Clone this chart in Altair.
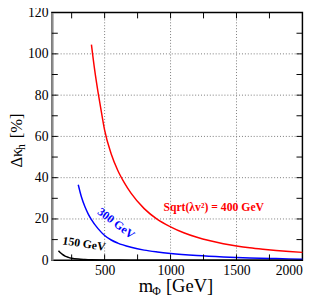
import altair as alt
import pandas as pd

# ---- data ----
red_m = [400, 425, 450, 475, 500, 550, 600, 650, 700, 800, 900, 1000, 1100, 1200,
         1300, 1400, 1500, 1600, 1700, 1800, 1900, 2000]
red_k = [104.5, 92.0, 81.5, 72.0, 63.0, 51.5, 43.5, 37.5, 32.5, 25.0, 19.8, 16.2,
         13.3, 11.1, 9.4, 8.0, 6.9, 6.0, 5.3, 4.7, 4.2, 3.8]

blue_m = [300, 325, 350, 375, 400, 450, 500, 550, 600, 700, 800, 900, 1000, 1200,
          1400, 1600, 1800, 2000]
blue_k = [36.6, 30.5, 26.0, 22.5, 19.7, 15.3, 12.0, 9.8, 8.3, 6.3, 4.9, 4.0, 3.3,
          2.3, 1.6, 1.1, 0.8, 0.5]

black_m = [150, 165, 180, 200, 225, 250, 300, 350, 400, 500, 700, 1000, 2000]
black_k = [4.6, 3.6, 2.8, 2.0, 1.4, 1.0, 0.55, 0.35, 0.22, 0.12, 0.05, 0.02, 0.0]

series_names = ["400", "300", "150"]
series_colors = ["#ff0000", "#0000ff", "#000000"]

x_labels = [500, 1000, 1500, 2000]
y_labels = [0, 20, 40, 60, 80, 100, 120]
x_grid = [500, 1000, 1500]
y_grid = [20, 40, 60, 80, 100]
x_minor = [250, 500, 750, 1000, 1250, 1500, 1750]
y_minor = [10, 20, 30, 40, 50, 60, 70, 80, 90, 100, 110]

label_red = ["Sqrt(λv²) = 400 GeV"]
label_blue = ["300 GeV"]
label_black = ["150 GeV"]

rows = []
for name, ms, ks in [("400", red_m, red_k), ("300", blue_m, blue_k), ("150", black_m, black_k)]:
    for m, k in zip(ms, ks):
        rows.append({"m": m, "k": k, "s": name})
df = pd.DataFrame(rows)

W, H = 257, 254
FONT = "Liberation Serif"
X0, X1, Y0, Y1 = 100, 2000, 0, 120
TX = 45    # inward tick length in x units (~6 px)
TY = 2.8   # inward tick length in y units (~6 px)


def segments(pairs):
    out = []
    for i, ((ma, ka), (mb, kb)) in enumerate(pairs):
        out.append({"gid": i, "o": 0, "m": ma, "k": ka})
        out.append({"gid": i, "o": 1, "m": mb, "k": kb})
    return pd.DataFrame(out)


grid_df = segments([((v, Y0), (v, Y1)) for v in x_grid] +
                   [((X0, v), (X1, v)) for v in y_grid])
tick_df = segments([((v, Y0), (v, Y0 + TY)) for v in x_minor] +
                   [((v, Y1 - TY), (v, Y1)) for v in x_minor] +
                   [((X0, v), (X0 + TX, v)) for v in y_minor] +
                   [((X1 - TX, v), (X1, v)) for v in y_minor])

xs = alt.Scale(domain=[X0, X1], nice=False, zero=False)
ys = alt.Scale(domain=[Y0, Y1], nice=False)

x_axis = alt.Axis(values=x_labels, format="d", title=None, grid=False,
                  ticks=False, domain=False,
                  labelFont=FONT, labelFontSize=14, labelColor="black",
                  labelPadding=4)
y_axis = alt.Axis(values=y_labels, format="d", title=None, grid=False,
                  ticks=False, domain=True,
                  domainColor="#8c8c8c", domainWidth=2.5,
                  labelFont=FONT, labelFontSize=14, labelColor="black",
                  labelPadding=4)

X = alt.X("m:Q", scale=xs, axis=x_axis)
Y = alt.Y("k:Q", scale=ys, axis=y_axis)

grid = alt.Chart(grid_df).mark_line(color="#777777", strokeWidth=1, strokeDash=[1, 2]).encode(
    x=X, y=Y, detail="gid:N", order="o:Q")

lines = alt.Chart(df).mark_line(strokeWidth=1.5, interpolate="monotone").encode(
    x=X, y=Y,
    color=alt.Color("s:N", scale=alt.Scale(domain=series_names, range=series_colors),
                    legend=None),
)

ticks = alt.Chart(tick_df).mark_line(color="black", strokeWidth=1).encode(
    x=X, y=Y, detail="gid:N", order="o:Q")


def txt(s, x, y, size, color="black", weight="normal", angle=0, align="center",
        baseline="middle"):
    return alt.Chart(pd.DataFrame({"t": s})).mark_text(
        font=FONT, fontSize=size, color=color, fontWeight=weight, angle=angle,
        align=align, baseline=baseline,
    ).encode(x=alt.value(x), y=alt.value(y), text="t:N")


t_red = txt(label_red, 166, 199, 12, "#ff0000", "bold")
t_blue = txt(label_blue, 66, 216, 12, "#0000ff", "bold", angle=37)
t_black = txt(label_black, 33, 237, 12, "black", "bold", angle=9)

# axis titles
xt1 = txt(["m"], 89, 287, 19, align="left", baseline="alphabetic")
xt2 = txt(["Φ"], 103, 290, 12, align="left", baseline="alphabetic")
xt3 = txt(["[GeV]"], 117, 287, 19, align="left", baseline="alphabetic")
yt1 = txt(["Δκ"], -31, 159, 17, angle=270, align="left", baseline="alphabetic")
yt2 = txt(["h"], -28, 141, 12, angle=270, align="left", baseline="alphabetic")
yt3 = txt(["[%]"], -31, 129, 17, angle=270, align="left", baseline="alphabetic")

chart = alt.layer(
    grid, lines, ticks, t_red, t_blue, t_black,
    xt1, xt2, xt3, yt1, yt2, yt3,
).properties(
    width=W, height=H,
    autosize=alt.AutoSizeParams(type="none"),
    padding={"left": 45, "top": 1, "right": 17, "bottom": 34},
).configure_view(stroke="black", strokeWidth=1.5)

chart.save("out.html", embed_options={"renderer": "svg", "actions": False})
